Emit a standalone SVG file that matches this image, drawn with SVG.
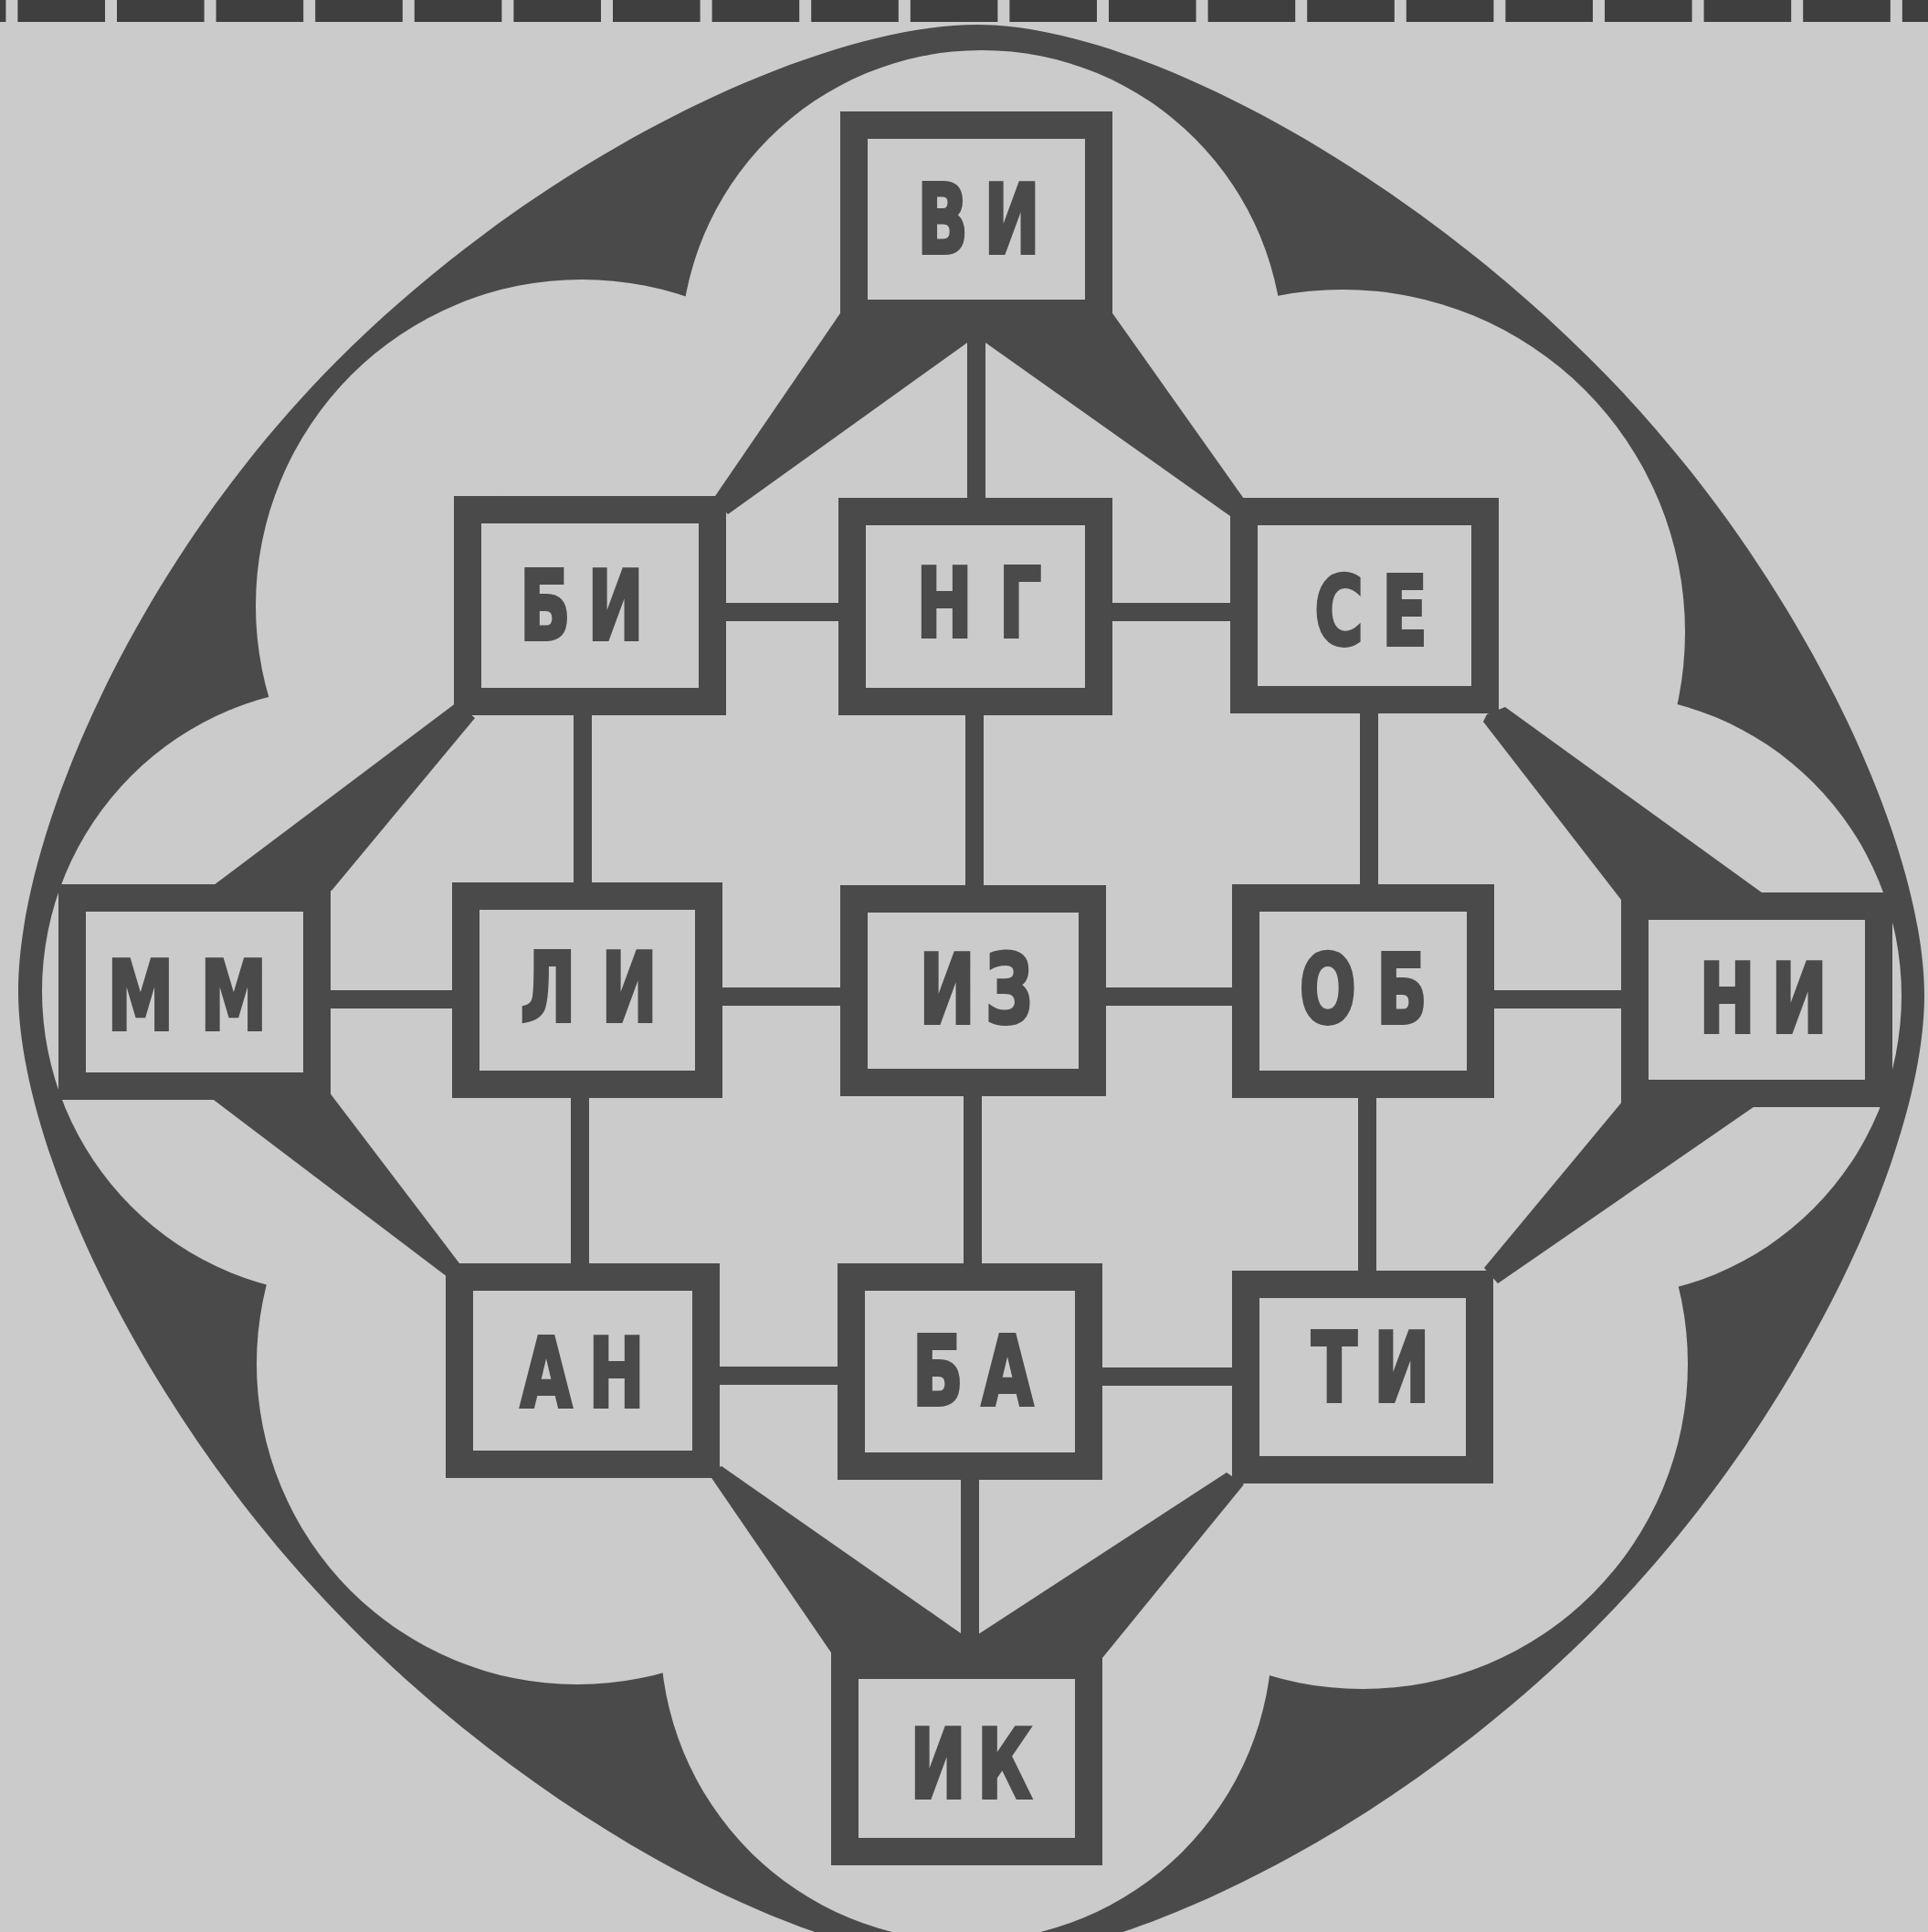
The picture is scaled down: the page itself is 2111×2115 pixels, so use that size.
<svg xmlns="http://www.w3.org/2000/svg" width="2111" height="2115" viewBox="0 0 2111 2115">
<style>
.t{font-family:"DejaVu Sans","Liberation Sans",sans-serif;font-weight:700;font-size:106px;fill:#4a4a4a;stroke:#4a4a4a;stroke-width:4px;text-anchor:middle}
.box{fill:#cbcbcb;stroke:#4a4a4a;stroke-width:30}
</style>
<rect x="0" y="0" width="2111" height="2115" fill="#cbcbcb"/>
<line x1="-89.2" y1="12" x2="2111" y2="12" stroke="#3f3f3f" stroke-width="24" stroke-dasharray="95.6 13"/>
<g id="ring">
<path fill="#4a4a4a" d="M1070,27 C1243.5,27 1539,184.9 1759,411 C1971.8,629.7 2107,922.1 2107,1090 C2107,1254.3 1976,1539.8 1771,1757 C1547.7,1993.5 1236.9,2148 1058,2148 C880.7,2148 576.8,1987 356,1752 C150.6,1533.4 20,1250 20,1085 C20,914.2 149.7,614.9 369,395 C592.7,170.8 895.8,27 1070,27 Z"/>
<g fill="#cbcbcb">
<circle cx="1075" cy="385" r="330"/>
<circle cx="1470" cy="692" r="375"/>
<circle cx="1752" cy="1090" r="330"/>
<circle cx="1492" cy="1493" r="356"/>
<circle cx="1058" cy="1790" r="335"/>
<circle cx="632" cy="1493" r="351"/>
<circle cx="379" cy="1085" r="333"/>
<circle cx="637" cy="663" r="357"/>
<polygon points="755.7,339.9 1393,337.7 1823,776.6 1824,1402 1385,1816 732,1819 314.8,1407 315.8,762"/>
</g>
</g>
<g id="connectors">
<g fill="#4a4a4a">
<path d="M922,340 L1069,340 L1069,368 L797,563 L781,546 Z"/>
<path d="M1216,340 L1069,340 L1069,368 L1347,565 L1362,546 Z"/>
<path d="M500,769 L520,786 L363,975 L226,975 Z"/>
<path d="M360,1195 L503,1383 L490,1398 L222,1195 Z"/>
<path d="M775,1612 L790,1605 L1062,1795 L1062,1812 L912,1812 Z"/>
<path d="M1343,1612 L1362,1625 L1207,1815 L1062,1812 L1062,1795 Z"/>
<path d="M1777,1205 L1930,1205 L1640,1405 L1625,1388 Z"/>
<path d="M1628,782 L1648,774 L1933,980 L1775,985 L1624,790 Z"/>
</g>
<g stroke="#4a4a4a" stroke-width="20">
<line x1="1069" y1="350" x2="1069" y2="555"/>
<line x1="785" y1="670" x2="930" y2="670"/>
<line x1="1205" y1="670" x2="1360" y2="670"/>
<line x1="638" y1="775" x2="638" y2="975"/>
<line x1="1067" y1="775" x2="1067" y2="980"/>
<line x1="1499" y1="775" x2="1499" y2="980"/>
<line x1="350" y1="1094" x2="505" y2="1094"/>
<line x1="780" y1="1091" x2="930" y2="1091"/>
<line x1="1200" y1="1091" x2="1360" y2="1091"/>
<line x1="1625" y1="1094" x2="1785" y2="1094"/>
<line x1="635" y1="1195" x2="635" y2="1390"/>
<line x1="1065" y1="1195" x2="1065" y2="1390"/>
<line x1="1497" y1="1195" x2="1497" y2="1400"/>
<line x1="780" y1="1506" x2="925" y2="1506"/>
<line x1="1200" y1="1507" x2="1360" y2="1507"/>
<line x1="1062" y1="1610" x2="1062" y2="1815"/>
</g>
</g>
<g id="node-VI"><rect class="box" x="935" y="137" width="268" height="206"/><text class="t" transform="scale(0.69 1)" y="277"><tspan x="1495.7">В</tspan><tspan x="1605.8">И</tspan></text></g>
<g id="node-BI"><rect class="box" x="512" y="558" width="268" height="210"/><text class="t" transform="scale(0.69 1)" y="700"><tspan x="865.2">Б</tspan><tspan x="976.8">И</tspan></text></g>
<g id="node-NG"><rect class="box" x="933" y="560" width="270" height="208"/><text class="t" transform="scale(0.69 1)" y="697"><tspan x="1498.6">Н</tspan><tspan x="1618.8">Г</tspan></text></g>
<g id="node-SE"><rect class="box" x="1362" y="560" width="264" height="206"/><text class="t" transform="scale(0.69 1)" y="706"><tspan x="2124.6">С</tspan><tspan x="2229">Е</tspan></text></g>
<g id="node-MM"><rect class="box" x="79" y="983" width="268" height="206"/><text class="t" transform="scale(0.69 1)" y="1127"><tspan x="223.2">М</tspan><tspan x="371">М</tspan></text></g>
<g id="node-LI"><rect class="box" x="510" y="981" width="266" height="206"/><text class="t" transform="scale(0.69 1)" y="1118"><tspan x="869.6">Л</tspan><tspan x="998.6">И</tspan></text></g>
<g id="node-IZ"><rect class="box" x="935" y="984" width="261" height="201"/><text class="t" transform="scale(0.69 1)" y="1120"><tspan x="1502.9">И</tspan><tspan x="1601.4">З</tspan></text></g>
<g id="node-OB"><rect class="box" x="1364" y="983" width="257" height="204"/><text class="t" transform="scale(0.69 1)" y="1120"><tspan x="2107.2">О</tspan><tspan x="2224.6">Б</tspan></text></g>
<g id="node-NI"><rect class="box" x="1790" y="992" width="267" height="205"/><text class="t" transform="scale(0.69 1)" y="1130"><tspan x="2740.6">Н</tspan><tspan x="2855.1">И</tspan></text></g>
<g id="node-AN"><rect class="box" x="503" y="1398" width="270" height="205"/><text class="t" transform="scale(0.69 1)" y="1540"><tspan x="866.7">А</tspan><tspan x="978.3">Н</tspan></text></g>
<g id="node-BA"><rect class="box" x="932" y="1398" width="260" height="207"/><text class="t" transform="scale(0.69 1)" y="1538"><tspan x="1488.4">Б</tspan><tspan x="1598.6">А</tspan></text></g>
<g id="node-TI"><rect class="box" x="1364" y="1406" width="256" height="203"/><text class="t" transform="scale(0.69 1)" y="1534"><tspan x="2117.4">Т</tspan><tspan x="2224.6">И</tspan></text></g>
<g id="node-IK"><rect class="box" x="925" y="1823" width="267" height="204"/><text class="t" transform="scale(0.69 1)" y="1968"><tspan x="1488.4">И</tspan><tspan x="1594.2">К</tspan></text></g>
</svg>
